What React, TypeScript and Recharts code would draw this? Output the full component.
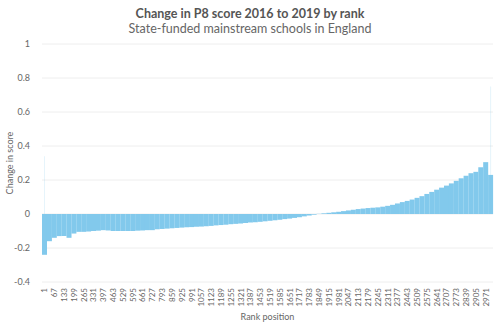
import React from "react";
import {
  BarChart,
  Bar,
  XAxis,
  YAxis,
  CartesianGrid,
} from "recharts";

// rank position of each sampled bar (every 33rd school)
const ranks = [
  1, 34, 67, 100, 133, 166, 199, 232, 265, 298, 331, 364, 397, 430, 463, 496,
  529, 562, 595, 628, 661, 694, 727, 760, 793, 826, 859, 892, 925, 958, 991,
  1024, 1057, 1090, 1123, 1156, 1189, 1222, 1255, 1288, 1321, 1354, 1387, 1420,
  1453, 1486, 1519, 1552, 1585, 1618, 1651, 1684, 1717, 1750, 1783, 1816, 1849,
  1882, 1915, 1948, 1981, 2014, 2047, 2080, 2113, 2146, 2179, 2212, 2245, 2278,
  2311, 2344, 2377, 2410, 2443, 2476, 2509, 2542, 2575, 2608, 2641, 2674, 2707,
  2740, 2773, 2806, 2839, 2872, 2905, 2938, 2971, 3004,
];

// change in P8 score at each sampled rank
const changes = [
  -0.24, -0.16, -0.14, -0.13, -0.13, -0.14, -0.115, -0.105, -0.105, -0.103,
  -0.1, -0.098, -0.095, -0.097, -0.1, -0.1, -0.1, -0.1, -0.1, -0.098, -0.097,
  -0.095, -0.095, -0.09, -0.088, -0.086, -0.084, -0.082, -0.08, -0.078, -0.077,
  -0.075, -0.074, -0.072, -0.07, -0.067, -0.065, -0.063, -0.06, -0.058, -0.056,
  -0.053, -0.05, -0.048, -0.046, -0.043, -0.04, -0.037, -0.034, -0.03, -0.027,
  -0.023, -0.019, -0.014, -0.009, -0.004, 0.001, 0.004, 0.007, 0.01, 0.013,
  0.017, 0.021, 0.025, 0.029, 0.032, 0.035, 0.037, 0.039, 0.043, 0.048, 0.054,
  0.062, 0.07, 0.077, 0.085, 0.095, 0.105, 0.118, 0.13, 0.143, 0.155, 0.167,
  0.18, 0.195, 0.21, 0.225, 0.24, 0.248, 0.275, 0.305, 0.23,
];

// single-school outliers at both ends (drawn as thin faint bars)
const firstOutlier = 0.34;
const lastOutlier = 0.75;

const yTicks = [-0.4, -0.2, 0, 0.2, 0.4, 0.6, 0.8, 1];

const data = ranks.map((r, i) => ({
  rank: String(r),
  change: changes[i],
  edge: i === 0 ? firstOutlier : i === ranks.length - 1 ? lastOutlier : null,
}));

const RankTick = (props: any) => {
  const { x, y, payload } = props;
  const ty = y - 2;
  return (
    <text
      x={x}
      y={ty}
      transform={`rotate(-90 ${x} ${ty})`}
      textAnchor="end"
      dominantBaseline="central"
      fontSize={8}
      fill="#666"
      fontFamily="Lato, sans-serif"
    >
      {payload.value}
    </text>
  );
};

export default function App() {
  return (
    <div
      style={{
        position: "absolute",
        left: 0,
        top: 0,
        width: 500,
        height: 326,
        background: "#fff",
        fontFamily: "Lato, sans-serif",
      }}
    >
      <div
        style={{
          position: "absolute",
          top: 6,
          width: 500,
          textAlign: "center",
          fontSize: 12.5,
          fontWeight: 700,
          color: "#555",
        }}
      >
        Change in P8 score 2016 to 2019 by rank
      </div>
      <div
        style={{
          position: "absolute",
          top: 21,
          width: 500,
          textAlign: "center",
          fontSize: 12.5,
          color: "#666",
        }}
      >
        State-funded mainstream schools in England
      </div>
      <BarChart
        width={500}
        height={326}
        data={data}
        margin={{ top: 44, right: 7, bottom: 0, left: 0 }}
        barCategoryGap={0}
        barGap={0}
      >
        <CartesianGrid stroke="#eeeeee" vertical={false} />
        <XAxis
          dataKey="rank"
          interval={1}
          axisLine={false}
          tickLine={false}
          height={44}
          tick={<RankTick />}
          label={{
            value: "Rank position",
            position: "insideBottom",
            offset: 6,
            fontSize: 9,
            fill: "#666",
          }}
        />
        <XAxis xAxisId="edge" dataKey="rank" hide />
        <YAxis
          domain={[-0.4, 1]}
          ticks={yTicks}
          width={42}
          axisLine={false}
          tickLine={false}
          tick={{ fontSize: 9, fill: "#666" }}
          tickMargin={6}
          label={{
            value: "Change in score",
            angle: -90,
            position: "insideLeft",
            offset: 10,
            style: { textAnchor: "middle", fontSize: 9, fill: "#666" },
          }}
        />
        <Bar
          dataKey="change"
          fill="#82c9ec"
          isAnimationActive={false}
        />
        <Bar
          xAxisId="edge"
          dataKey="edge"
          fill="#82c9ec"
          fillOpacity={0.2}
          barSize={1}
          isAnimationActive={false}
        />
      </BarChart>
    </div>
  );
}
